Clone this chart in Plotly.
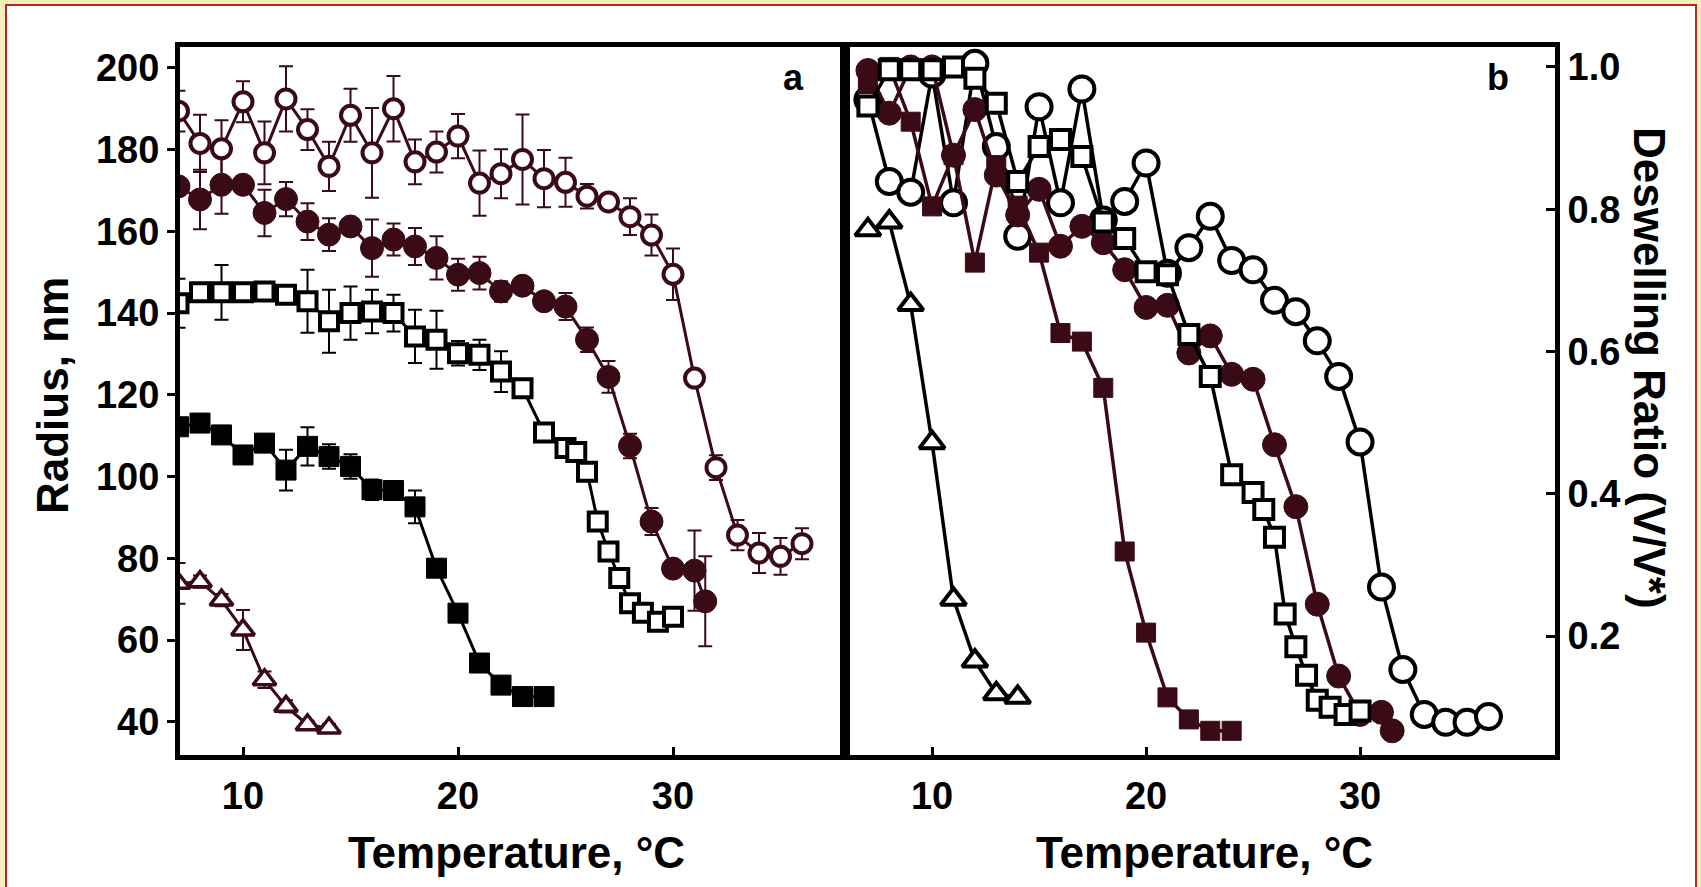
import plotly.graph_objects as go

W, H = 1701, 887
MAROON = "#3a0a16"
BLACK = "#000000"
FONT = "Liberation Sans, Arial, Helvetica, sans-serif"

# ---------------- Panel a: radius (nm) vs temperature ----------------
t_oc_a = list(range(7, 37))
r_oc_a = [189.4, 181.5, 180.2, 191.7, 179.2, 192.4, 184.9, 175.9, 188.4, 179.2,
          190.0, 177.0, 179.4, 183.3, 171.8, 174.1, 177.6, 172.9, 172.0, 168.6,
          167.2, 163.6, 159.1, 149.5, 124.1, 102.2, 85.7, 81.3, 80.5, 83.6]
e_oc_a = [5.0, 7.0, 7.0, 5.0, 7.7, 8.0, 5.0, 6.0, 6.5, 11.0,
          8.0, 5.5, 5.0, 5.4, 8.0, 6.0, 11.0, 7.0, 6.0, 3.0,
          2.0, 4.5, 5.0, 6.3, 1.5, 3.0, 3.7, 4.9, 4.5, 3.8]

t_fc_a = list(range(7, 30)) + [30, 31, 31.5]
r_fc_a = [171.0, 167.8, 171.4, 171.4, 164.5, 167.9, 162.4, 159.2, 161.2, 155.9,
          158.0, 156.3, 153.5, 149.4, 149.8, 145.3, 146.7, 142.9, 141.6, 133.5,
          124.4, 107.5, 89.0, 77.5, 77.0, 69.5]
e_fc_a = [2.0, 7.3, 7.1, 2.0, 5.7, 4.2, 4.5, 4.0, 2.0, 7.0,
          3.9, 4.5, 5.3, 3.9, 4.0, 2.5, 1.0, 2.0, 3.3, 3.0,
          3.9, 3.0, 3.3, 2.0, 9.8, 11.0]

t_os_a = list(range(7, 24)) + [24, 25, 25.5, 26, 26.5, 27, 27.5, 28, 28.6, 29.3, 30]
r_os_a = [142.4, 145.1, 145.1, 145.1, 145.3, 144.5, 142.9, 138.0, 140.0, 140.4,
          140.0, 134.3, 133.5, 130.2, 129.8, 125.7, 121.6,
          110.8, 107.0, 106.0, 101.2, 89.0, 81.7, 75.2, 69.0, 66.7, 64.5, 65.7]
e_os_a = [6.0, 2.0, 6.7, 1.5, 1.5, 2.0, 7.7, 7.7, 6.5, 5.3,
          4.5, 6.5, 7.1, 3.0, 3.7, 5.0, 1.5,
          1.0, 1.0, 1.0, 1.0, 1.0, 1.0, 1.0, 1.0, 1.0, 1.0, 1.0]

t_fs_a = list(range(7, 25))
r_fs_a = [112.2, 113.1, 110.2, 105.3, 108.2, 101.6, 107.4, 104.9, 102.5, 96.8,
          96.6, 92.6, 77.6, 66.6, 54.4, 49.0, 46.2, 46.2]
e_fs_a = [1.5, 1.5, 1.0, 1.0, 2.0, 5.0, 4.7, 3.0, 3.0, 2.5,
          1.5, 4.0, 1.0, 1.5, 1.0, 1.0, 1.0, 1.0]

t_tr_a = list(range(7, 15))
r_tr_a = [73.9, 74.3, 69.8, 62.5, 50.3, 43.8, 39.3, 38.5]
e_tr_a = [5.0, 1.5, 1.5, 4.9, 2.0, 1.5, 1.0, 1.0]

# ---------------- Panel b: deswelling ratio (V/V*) vs temperature ----------------
t_oc_b = list(range(7, 37))
v_oc_b = [0.954, 0.839, 0.824, 0.990, 0.809, 1.005, 0.888, 0.762, 0.944, 0.809,
          0.969, 0.785, 0.811, 0.865, 0.710, 0.746, 0.790, 0.728, 0.715, 0.672,
          0.656, 0.615, 0.565, 0.473, 0.269, 0.153, 0.090, 0.079, 0.079, 0.087]

t_fc_b = list(range(7, 30)) + [30, 31, 31.5]
v_fc_b = [0.995, 0.935, 1.000, 1.000, 0.876, 0.940, 0.848, 0.792, 0.828, 0.748,
          0.776, 0.753, 0.715, 0.662, 0.665, 0.598, 0.622, 0.568, 0.561, 0.469,
          0.382, 0.245, 0.144, 0.090, 0.093, 0.067]

t_os_b = list(range(7, 24)) + [24, 25, 25.5, 26, 26.5, 27, 27.5, 28, 28.6, 29.3, 30]
v_os_b = [0.945, 0.996, 0.996, 0.996, 1.000, 0.984, 0.949, 0.839, 0.888, 0.898,
          0.874, 0.782, 0.759, 0.712, 0.708, 0.624, 0.565,
          0.427, 0.402, 0.378, 0.339, 0.231, 0.185, 0.145, 0.110, 0.100, 0.090, 0.095]

t_fs_b = list(range(7, 25))
v_fs_b = [0.976, 1.000, 0.923, 0.804, 0.876, 0.725, 0.862, 0.805, 0.739, 0.626,
          0.614, 0.549, 0.319, 0.205, 0.114, 0.083, 0.067, 0.067]

t_tr_b = list(range(7, 15))
v_tr_b = [0.771, 0.782, 0.666, 0.472, 0.252, 0.165, 0.119, 0.114]

# Axis ticks
x_ticks = [10, 20, 30]
ya_ticks = [40, 60, 80, 100, 120, 140, 160, 180, 200]
yb_ticks = [0.2, 0.4, 0.6, 0.8, 1.0]
yb_ticktext = ["0.2", "0.4", "0.6", "0.8", "1.0"]

# Layout geometry (pixels on the 1701x887 page)
AX_L, AX_MID, AX_R = 180, 845, 1555
AX_T, AX_B = 47, 755


def fx(p):
    return p / W


def fy(p):
    return 1 - p / H


fig = go.Figure()


def series_a(t, r, e, symbol, fill, edge, size, lw=4):
    fig.add_trace(go.Scatter(
        x=t, y=r, mode="lines+markers", xaxis="x", yaxis="y",
        line=dict(color=edge, width=3),
        marker=dict(symbol=symbol, size=size, color=fill,
                    line=dict(color=edge, width=lw)),
        error_y=dict(type="data", array=e, visible=True, color=edge,
                     thickness=2, width=7),
        showlegend=False, hoverinfo="x+y"))


def series_b(t, v, symbol, fill, edge, size, lw=4):
    fig.add_trace(go.Scatter(
        x=t, y=v, mode="lines+markers", xaxis="x2", yaxis="y2",
        line=dict(color=edge, width=3.5),
        marker=dict(symbol=symbol, size=size, color=fill,
                    line=dict(color=edge, width=lw)),
        showlegend=False, hoverinfo="x+y"))


series_a(t_tr_a, r_tr_a, e_tr_a, "triangle-up", "white", MAROON, 20, 3.5)
series_a(t_fs_a, r_fs_a, e_fs_a, "square", BLACK, BLACK, 20, 1)
series_a(t_os_a, r_os_a, e_os_a, "square", "white", BLACK, 18)
series_a(t_fc_a, r_fc_a, e_fc_a, "circle", MAROON, MAROON, 23, 1)
series_a(t_oc_a, r_oc_a, e_oc_a, "circle", "white", MAROON, 19)

series_b(t_oc_b, v_oc_b, "circle", "white", BLACK, 25)
series_b(t_fc_b, v_fc_b, "circle", MAROON, MAROON, 24, 1)
series_b(t_fs_b, v_fs_b, "square", MAROON, MAROON, 19, 1)
series_b(t_os_b, v_os_b, "square", "white", BLACK, 19)
series_b(t_tr_b, v_tr_b, "triangle-up", "white", BLACK, 22)

tickfont = dict(family=FONT, size=38, color=BLACK, weight="bold")
xdom_a = [fx(AX_L), fx(AX_MID)]
xdom_b = [fx(AX_MID), fx(AX_R)]
ydom = [fy(AX_B), fy(AX_T)]

common_line = dict(showline=True, linecolor=BLACK, linewidth=5, mirror=True,
                   showgrid=False, zeroline=False)

fig.update_layout(
    width=W, height=H,
    margin=dict(l=0, r=0, t=0, b=0),
    paper_bgcolor="#f6eebd",
    plot_bgcolor="white",
    xaxis=dict(domain=xdom_a, range=[7.07, 38.0], anchor="y",
               tickvals=x_ticks, ticks="inside", ticklen=8, tickwidth=3,
               tickcolor=BLACK, tickfont=tickfont, ticklabelstandoff=3,
               **common_line),
    yaxis=dict(domain=ydom, range=[31.9, 205.1], anchor="x",
               tickvals=ya_ticks, ticks="outside", ticklen=8, tickwidth=3,
               tickcolor=BLACK, tickfont=tickfont, **common_line),
    yaxis3=dict(domain=ydom, range=[31.9, 205.1], anchor="x", overlaying="y",
                tickvals=ya_ticks, ticks="inside", ticklen=8, tickwidth=3,
                tickcolor=BLACK, showticklabels=False, showline=False,
                showgrid=False, zeroline=False),
    xaxis2=dict(domain=xdom_b, range=[5.93, 39.11], anchor="y2",
                tickvals=x_ticks, ticks="inside", ticklen=8, tickwidth=3,
                tickcolor=BLACK, tickfont=tickfont, ticklabelstandoff=3,
                **common_line),
    yaxis2=dict(domain=ydom, range=[0.033, 1.028], anchor="x2", side="right",
                tickvals=yb_ticks, ticktext=yb_ticktext, ticks="inside",
                ticklen=9, tickwidth=3, tickcolor=BLACK, tickfont=tickfont,
                **common_line),
)

# Page frame: yellow margin with a thin red border around the white figure area
fig.add_shape(type="rect", xref="paper", yref="paper",
              x0=fx(6), x1=fx(1696), y0=fy(900), y1=fy(5),
              fillcolor="white", line=dict(color="#b5252a", width=2),
              layer="below")

title_font = dict(family=FONT, size=44, color=BLACK, weight="bold")
annotations = [
    dict(text="Temperature, °C", x=fx(516), y=fy(852)),
    dict(text="Temperature, °C", x=fx(1204), y=fy(852)),
    dict(text="Radius, nm", x=fx(52), y=fy(396), textangle=-90),
    dict(text="Deswelling Ratio (V/V*)", x=fx(1650), y=fy(368), textangle=90),
]
for a in annotations:
    fig.add_annotation(xref="paper", yref="paper", showarrow=False,
                       xanchor="center", yanchor="middle", font=title_font, **a)

label_font = dict(family=FONT, size=36, color=BLACK, weight="bold")
fig.add_annotation(text="a", x=fx(793), y=fy(78), xref="paper", yref="paper",
                   showarrow=False, xanchor="center", yanchor="middle", font=label_font)
fig.add_annotation(text="b", x=fx(1498), y=fy(78), xref="paper", yref="paper",
                   showarrow=False, xanchor="center", yanchor="middle", font=label_font)

fig.write_html("out.html")
